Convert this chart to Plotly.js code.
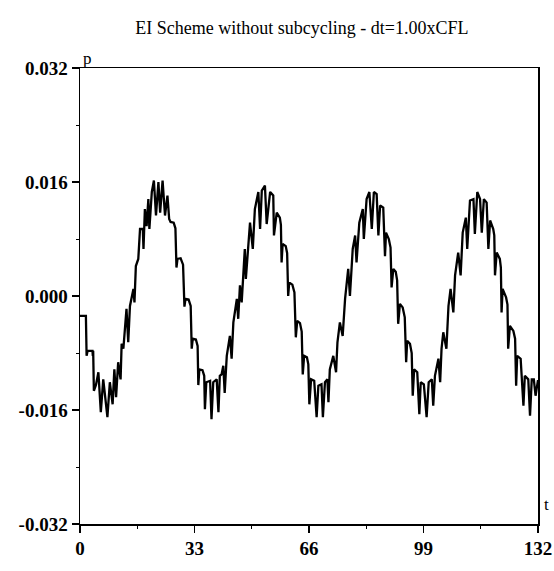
<!DOCTYPE html>
<html>
<head>
<meta charset="utf-8">
<script src="https://cdn.plot.ly/plotly-3.0.1.min.js"></script>
<style>
  html, body { margin: 0; padding: 0; background: #fff; }
  #chart { width: 554px; height: 571px; }
</style>
</head>
<body>
<div id="chart"></div>
<script>
// Digitized signal: time t and pressure p
const t = [
  0, 1.7, 1.9, 2.2, 3.6, 3.7, 3.8, 4.0, 4.6, 5.3, 6.0, 6.7, 7.9, 8.6, 9.4, 9.9, 10.4, 11.0, 11.7, 12.0,
  12.5, 13.4, 13.9, 14.4, 15.4, 15.7, 16.1, 16.8, 17.3, 18.1, 18.3, 18.7, 19.2, 19.7, 20.0, 20.7, 21.3, 21.9, 22.6, 23.1,
  23.8, 24.5, 25.2, 25.7, 26.1, 27.0, 27.5, 27.8, 28.1, 29.0, 29.7, 30.1, 30.4, 31.3, 31.9, 32.2, 32.5, 33.4, 33.9, 34.1,
  34.4, 35.3, 35.8, 36.0, 36.4, 37.5, 37.9, 38.4, 39.4, 39.9, 40.3, 40.8, 41.3, 41.7, 42.3, 43.2, 43.7, 44.2, 45.2, 45.6,
  46.1, 46.6, 47.5, 47.8, 49.0, 49.8, 50.4, 51.4, 51.9, 52.4, 53.3, 53.8, 54.8, 55.7, 55.9, 56.7, 57.6, 57.9, 58.1, 58.4,
  59.3, 59.7, 60.0, 60.3, 61.2, 61.8, 62.2, 62.6, 63.4, 63.9, 64.2, 64.6, 65.4, 65.8, 66.1, 66.6, 67.5, 68.2, 68.7, 69.6,
  70.0, 70.6, 71.3, 71.6, 72.0, 73.0, 73.8, 74.2, 74.9, 75.7, 76.4, 77.3, 77.8, 78.6, 79.3, 79.7, 80.5, 81.5, 81.8, 82.6,
  83.4, 84.1, 84.7, 85.5, 86.0, 86.5, 87.4, 87.9, 88.2, 89.0, 89.5, 89.8, 90.3, 91.0, 91.4, 91.7, 92.2, 93.0, 93.6, 94.0,
  94.3, 95.1, 95.6, 95.9, 96.3, 97.2, 97.8, 98.2, 99.1, 99.9, 100.5, 101.4, 101.8, 102.3, 103.3, 103.8, 104.2, 104.7, 105.6, 106.2,
  106.8, 107.6, 108.1, 109.0, 109.7, 110.3, 111.2, 111.6, 112.4, 113.4, 113.8, 114.5, 115.3, 115.8, 116.4, 117.2, 117.7, 118.2, 119.1, 119.4,
  119.6, 120.1, 121.0, 121.3, 121.5, 121.8, 122.8, 123.2, 123.4, 123.9, 124.9, 125.4, 125.7, 126.0, 127.0, 127.8, 128.2, 129.2, 129.7, 130.2,
  130.8, 131.3, 132.0
];
const p = [
  -0.0028, -0.0028, -0.0084, -0.0077, -0.0077, -0.0084, -0.0077, -0.0133, -0.0125, -0.0107, -0.0163, -0.0117, -0.0170, -0.0121, -0.0152, -0.0103, -0.0142, -0.0093, -0.0117, -0.0067,
  -0.0074, -0.0018, -0.0065, -0.0014, 0.0010, -0.0009, 0.0042, 0.0052, 0.0094, 0.0094, 0.0066, 0.0122, 0.0098, 0.0136, 0.0094, 0.0146, 0.0162, 0.0113, 0.0160, 0.0117,
  0.0162, 0.0113, 0.0141, 0.0108, 0.0104, 0.0103, 0.0095, 0.0040, 0.0052, 0.0053, 0.0044, -0.0015, -0.0004, -0.0005, -0.0014, -0.0074, -0.0060, -0.0061, -0.0070, -0.0125,
  -0.0103, -0.0104, -0.0112, -0.0159, -0.0121, -0.0119, -0.0173, -0.0121, -0.0117, -0.0163, -0.0112, -0.0110, -0.0098, -0.0136, -0.0084, -0.0056, -0.0088, -0.0037, -0.0004, -0.0032,
  0.0015, -0.0009, 0.0066, 0.0024, 0.0103, 0.0066, 0.0122, 0.0146, 0.0094, 0.0148, 0.0155, 0.0101, 0.0146, 0.0141, 0.0085, 0.0117, 0.0110, 0.0100, 0.0047, 0.0073,
  0.0070, 0.0060, 0.0000, 0.0019, 0.0016, 0.0005, -0.0058, -0.0035, -0.0038, -0.0050, -0.0110, -0.0084, -0.0086, -0.0096, -0.0152, -0.0117, -0.0119, -0.0170, -0.0126, -0.0124,
  -0.0170, -0.0121, -0.0117, -0.0149, -0.0103, -0.0084, -0.0107, -0.0065, -0.0037, -0.0056, -0.0004, 0.0038, 0.0000, 0.0066, 0.0085, 0.0047, 0.0103, 0.0122, 0.0080, 0.0136,
  0.0146, 0.0094, 0.0146, 0.0143, 0.0085, 0.0127, 0.0124, 0.0056, 0.0089, 0.0080, 0.0068, 0.0012, 0.0038, 0.0034, 0.0022, -0.0039, -0.0011, -0.0016, -0.0030, -0.0093,
  -0.0063, -0.0067, -0.0080, -0.0140, -0.0103, -0.0107, -0.0166, -0.0121, -0.0124, -0.0170, -0.0121, -0.0117, -0.0154, -0.0112, -0.0088, -0.0121, -0.0074, -0.0051, -0.0074, -0.0014,
  0.0010, -0.0023, 0.0029, 0.0061, 0.0029, 0.0089, 0.0110, 0.0066, 0.0134, 0.0136, 0.0087, 0.0146, 0.0136, 0.0089, 0.0136, 0.0131, 0.0066, 0.0106, 0.0094, 0.0085,
  0.0029, 0.0061, 0.0052, 0.0040, -0.0023, 0.0010, -0.0002, -0.0012, -0.0074, -0.0042, -0.0049, -0.0060, -0.0126, -0.0084, -0.0088, -0.0154, -0.0112, -0.0117, -0.0168, -0.0117,
  -0.0117, -0.0140, -0.0118
];
const xTicks = [0, 33, 66, 99, 132];
const xMinor = [16.5, 49.5, 82.5, 115.5];
const yTicks = [-0.032, -0.016, 0, 0.016, 0.032];
const yTickText = ['-0.032', '-0.016', '0.000', '0.016', '0.032'];
const yMinor = [-0.024, -0.008, 0.008, 0.024];
const titleText = 'EI Scheme without subcycling - dt=1.00xCFL';

const serif = 'Liberation Serif, Times New Roman, serif';
const tickFont = {family: serif, size: 19, color: '#000', weight: 'bold'};

const trace = {
  x: t, y: p, type: 'scatter', mode: 'lines',
  line: {color: '#000', width: 2.3},
  hoverinfo: 'skip'
};

const layout = {
  width: 554, height: 571,
  margin: {l: 80, r: 16, t: 68, b: 47, pad: 0},
  paper_bgcolor: '#fff', plot_bgcolor: '#fff',
  showlegend: false,
  title: {text: titleText, x: 0.545, xanchor: 'center', y: 0.951, yanchor: 'middle',
          font: {family: serif, size: 18, color: '#000'}},
  xaxis: {
    range: [0, 132], tickvals: xTicks, ticktext: xTicks.map(String),
    ticks: 'outside', ticklen: 7, tickwidth: 1.5, tickcolor: '#000',
    showline: true, linecolor: '#000', linewidth: 1.5, mirror: true,
    showgrid: false, zeroline: false, tickfont: tickFont,
    minor: {tickvals: xMinor, ticks: 'outside', ticklen: 3, tickcolor: '#000', tickwidth: 1}
  },
  yaxis: {
    range: [-0.032, 0.032], tickvals: yTicks, ticktext: yTickText,
    ticks: 'outside', ticklen: 7, tickwidth: 1.5, tickcolor: '#000',
    showline: true, linecolor: '#000', linewidth: 1.5, mirror: true,
    showgrid: false, zeroline: false, tickfont: tickFont,
    minor: {tickvals: yMinor, ticks: 'outside', ticklen: 3, tickcolor: '#000', tickwidth: 1}
  },
  annotations: [
    {text: 'p', xref: 'paper', yref: 'paper', x: 0, y: 1, xanchor: 'left', yanchor: 'bottom',
     xshift: 1, yshift: -2, showarrow: false, font: {family: serif, size: 17, color: '#000'}},
    {text: 't', xref: 'paper', yref: 'paper', x: 1, y: 0, xanchor: 'left', yanchor: 'bottom',
     xshift: 4, yshift: 8, showarrow: false, font: {family: serif, size: 17, color: '#000'}}
  ]
};

Plotly.newPlot('chart', [trace], layout, {staticPlot: true, displayModeBar: false});
</script>
</body>
</html>
